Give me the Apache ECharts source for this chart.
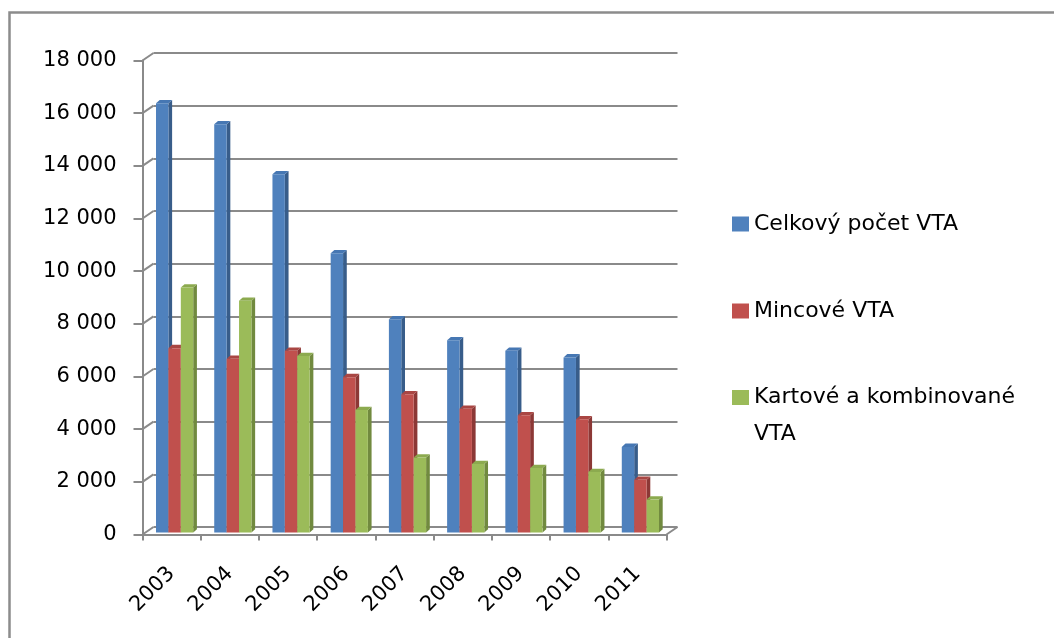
<!DOCTYPE html>
<html>
<head>
<meta charset="utf-8">
<script src="https://cdn.jsdelivr.net/npm/echarts@6/dist/echarts.min.js"></script>
<style>
  html, body { margin: 0; padding: 0; background: #fff; }
  #chart { width: 1054px; height: 638px; }
</style>
</head>
<body>
<div id="chart"></div>
<script>
// Počty VTA podle roku
const years = ['2003', '2004', '2005', '2006', '2007', '2008', '2009', '2010', '2011'];
const celkovy = [16300, 15500, 13600, 10600, 8100, 7300, 6900, 6650, 3250];
const mincove = [7000, 6600, 6900, 5900, 5250, 4700, 4450, 4300, 2000];
const kartove = [9300, 8800, 6700, 4650, 2850, 2600, 2450, 2300, 1250];
const seriesNames = ['Celkový počet VTA', 'Mincové VTA', 'Kartové a kombinované VTA'];
const yTicks = [0, 2000, 4000, 6000, 8000, 10000, 12000, 14000, 16000, 18000];

// Faux-3D geometry: back wall grid, front axis grid offset toward the viewer
const BACK = { left: 153.5, top: 53, width: 524, height: 474 };
const FRONT_DX = -11, FRONT_DY = 7.5;
const BAR_DX = -8, BAR_DY = 5.5;      // bar front faces sit between wall and front axis
const DEPTH_X = 3.7, DEPTH_Y = 3.3;   // visible bar depth
const BAR_FRAC = 0.213;               // one bar width as a share of the category band

const FONT = '"DejaVu Sans", "Open Sans", sans-serif';
const GRID_COLOR = '#8a8a8a';

const palette = [
  { front: '#4F81BD', side: '#385D8A', top: '#4677B3' },
  { front: '#C0504D', side: '#8C3836', top: '#A94643' },
  { front: '#9BBB59', side: '#718A3F', top: '#8CAA4F' }
];

function barRenderer(seriesIdx) {
  return function (params, api) {
    const cat = api.value(0);
    const val = api.value(1);
    const base = api.coord([cat, 0]);
    const top = api.coord([cat, val]);
    const band = api.size([1, 0])[0];
    const w = band * BAR_FRAC;
    const x0 = base[0] - w * 1.5 + seriesIdx * w + BAR_DX;
    const yT = top[1] + BAR_DY;
    const yB = base[1] + BAR_DY;
    const c = palette[seriesIdx];
    return {
      type: 'group',
      children: [
        { type: 'polygon', shape: { points: [[x0 + w, yT], [x0 + w + DEPTH_X, yT - DEPTH_Y], [x0 + w + DEPTH_X, yB - DEPTH_Y], [x0 + w, yB]] },
          style: { fill: c.side } },
        { type: 'polygon', shape: { points: [[x0, yT], [x0 + DEPTH_X, yT - DEPTH_Y], [x0 + w + DEPTH_X, yT - DEPTH_Y], [x0 + w, yT]] },
          style: { fill: c.top } },
        { type: 'rect', shape: { x: x0, y: yT, width: w, height: yB - yT },
          style: { fill: c.front } }
      ]
    };
  };
}

// Diagonal connectors from the front axis ticks to the back wall gridlines, plus floor edge
function frameRenderer(params, api) {
  const cs = params.coordSys;
  const y = api.coord([0, api.value(1)])[1];
  const children = [{
    type: 'line',
    shape: { x1: cs.x + FRONT_DX, y1: y + FRONT_DY, x2: cs.x, y2: y },
    style: { stroke: GRID_COLOR, lineWidth: 2 }
  }];
  if (api.value(1) === 0) {
    children.push({
      type: 'line',
      shape: { x1: cs.x + cs.width + FRONT_DX, y1: y + FRONT_DY, x2: cs.x + cs.width, y2: y },
      style: { stroke: GRID_COLOR, lineWidth: 2 }
    });
  }
  return { type: 'group', children: children };
}

const valueSets = [celkovy, mincove, kartove];

const option = {
  backgroundColor: '#fff',
  animation: false,
  textStyle: { fontFamily: FONT },
  graphic: [{
    type: 'rect',
    shape: { x: 9.5, y: 12.5, width: 1200, height: 800 },
    style: { fill: 'none', stroke: '#8c8c8c', lineWidth: 2.5 },
    silent: true
  }],
  grid: [
    { left: BACK.left, top: BACK.top, width: BACK.width, height: BACK.height, containLabel: false },
    { left: BACK.left + FRONT_DX, top: BACK.top + FRONT_DY, width: BACK.width, height: BACK.height, containLabel: false }
  ],
  xAxis: [
    { gridIndex: 0, type: 'category', data: years,
      axisLine: { show: false }, axisTick: { show: false }, axisLabel: { show: false }, splitLine: { show: false } },
    { gridIndex: 1, type: 'category', data: years,
      axisLine: { show: true, lineStyle: { color: GRID_COLOR, width: 2 } },
      axisTick: { show: true, length: 6, lineStyle: { color: GRID_COLOR, width: 2 } },
      axisLabel: { rotate: 45, margin: 36, fontSize: 21, color: '#000', fontFamily: FONT },
      splitLine: { show: false } }
  ],
  yAxis: [
    { gridIndex: 0, type: 'value', min: 0, max: 18000, interval: 2000,
      axisLine: { show: false }, axisTick: { show: false }, axisLabel: { show: false },
      splitLine: { show: true, lineStyle: { color: GRID_COLOR, width: 2 } } },
    { gridIndex: 1, type: 'value', min: 0, max: 18000, interval: 2000,
      axisLine: { show: true, lineStyle: { color: GRID_COLOR, width: 2 } },
      axisTick: { show: true, length: 9, lineStyle: { color: GRID_COLOR, width: 2 } },
      axisLabel: { margin: 26, fontSize: 21, color: '#000', fontFamily: FONT,
        formatter: v => String(v).replace(/\B(?=(\d{3})+(?!\d))/g, ' ') },
      splitLine: { show: false } }
  ],
  legend: [
    { data: [seriesNames[0], seriesNames[1]], orient: 'vertical', left: 732, top: 205.5, padding: 0,
      icon: 'rect', itemWidth: 17, itemHeight: 15, itemGap: 50,
      textStyle: { fontSize: 22, lineHeight: 37, color: '#000', fontFamily: FONT } },
    { data: [seriesNames[2]], orient: 'vertical', left: 732, top: 342, padding: 0,
      icon: 'rect', itemWidth: 17, itemHeight: 15,
      // leading empty line keeps the first text line level with the swatch
      formatter: () => ' \nKartové a kombinované\nVTA',
      textStyle: { fontSize: 22, lineHeight: 37, color: '#000', fontFamily: FONT } }
  ],
  series: [
    {
      type: 'custom', name: 'frame', xAxisIndex: 0, yAxisIndex: 0, z: 1, silent: true,
      renderItem: frameRenderer,
      data: yTicks.map(v => [0, v])
    }
  ].concat(valueSets.map((arr, i) => ({
    type: 'custom',
    name: seriesNames[i],
    xAxisIndex: 0, yAxisIndex: 0, z: 3 + i,
    itemStyle: { color: palette[i].front },
    renderItem: barRenderer(i),
    encode: { x: 0, y: 1 },
    data: arr.map((v, j) => [j, v])
  })))
};

echarts.init(document.getElementById('chart'), null, { renderer: 'canvas' }).setOption(option);
</script>
</body>
</html>
